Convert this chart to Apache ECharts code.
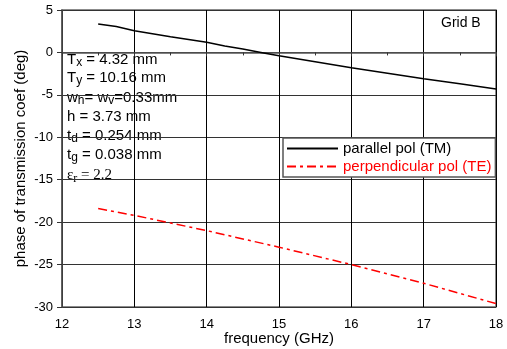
<!DOCTYPE html>
<html><head><meta charset="utf-8">
<script src="https://cdn.jsdelivr.net/npm/echarts@6/dist/echarts.min.js"></script>
<style>html,body{margin:0;padding:0;background:#fff}#c{width:507px;height:349px}</style>
</head><body><div id="c"></div>
<script>
const freqTM = [12.5, 12.75, 13, 13.5, 14, 14.25, 14.5, 14.75, 15, 15.5, 16, 16.5, 17, 17.5, 18];
const phaseTM = [3.35, 3.05, 2.55, 1.85, 1.2, 0.75, 0.4, 0.0, -0.4, -1.1, -1.8, -2.45, -3.1, -3.7, -4.3];
const freqTE = [12.5, 13, 14, 15, 16, 17, 18];
const phaseTE = [-18.4, -19.2, -21.0, -22.95, -25.0, -27.2, -29.6];
const seriesNames = ['parallel pol (TM)', 'perpendicular pol (TE)'];
const xTicks = [12, 13, 14, 15, 16, 17, 18];
const yTicks = [5, 0, -5, -10, -15, -20, -25, -30];

const chart = echarts.init(document.getElementById('c'));
const font = 'Liberation Sans, Arial, sans-serif';
const sub = {fontSize: 12, fontFamily: font, color: '#000', padding: [7, 0, 0, 0]};
const main = {fontSize: 15, fontFamily: font, color: '#000'};
const ann = [
  ['{m|T}{s|x}{m| = 4.32 mm}', 61],
  ['{m|T}{s|y}{m| = 10.16 mm}', 79],
  ['{m|w}{s|h}{m|= w}{s|v}{m|=0.33mm}', 99],
  ['{m|h = 3.73 mm}', 118],
  ['{m|t}{s|d}{m| = 0.254 mm}', 137],
  ['{m|t}{s|g}{m| = 0.038 mm}', 156]
];
const graphic = ann.map(a => ({
  type: 'text', left: 67, top: a[1] - 9,
  style: {text: a[0], rich: {m: main, s: sub}}
}));
graphic.push({type: 'text', left: 67, top: 168, style: {text: '{m|ε}{s|r}{m| = 2.2}', rich: {
  m: {fontSize: 15, fontFamily: 'Liberation Serif, Times New Roman, serif', color: '#444'},
  s: {fontSize: 12, fontFamily: 'Liberation Serif, serif', color: '#444', padding: [6, 0, 0, 0]}}}});
graphic.push({type: 'text', left: 441, top: 16, style: {text: 'Grid B', fontSize: 14, fontFamily: font, fill: '#000'}});

chart.setOption({
  animation: false,
  grid: {left: 62, right: 11, top: 10, bottom: 42, show: true, borderColor: '#666', borderWidth: 1.5,
    containLabel: false, outerBoundsMode: 'none'},
  graphic: graphic,
  legend: {
    orient: 'vertical', left: 283, top: 138, width: 210,
    padding: [3, 4, 3, 3], itemGap: 3, itemWidth: 51, itemHeight: 14,
    backgroundColor: '#fff', borderColor: '#555', borderWidth: 1.5,
    itemStyle: {opacity: 0},
    textStyle: {fontSize: 15, fontFamily: font},
    data: [
      {name: seriesNames[0], textStyle: {color: '#000'}},
      {name: seriesNames[1], textStyle: {color: '#ff0000'}}
    ]
  },
  xAxis: {
    type: 'value', min: 12, max: 18, interval: 1,
    name: 'frequency (GHz)', nameLocation: 'middle', nameGap: 24, nameMoveOverlap: false,
    nameTextStyle: {fontSize: 15, fontFamily: font, color: '#000'},
    axisLine: {lineStyle: {color: '#555', width: 1.5}},
    axisTick: {show: true, inside: false, length: 4, lineStyle: {color: '#333'}},
    minorTick: {show: true, splitNumber: 2, length: 3, lineStyle: {color: '#333'}},
    axisLabel: {fontSize: 13, fontFamily: font, color: '#000', margin: 11,
      formatter: v => xTicks.includes(v) ? String(v) : ''},
    splitLine: {show: true, lineStyle: {color: '#000', width: 1}}
  },
  yAxis: {
    type: 'value', min: -30, max: 5, interval: 5,
    name: 'phase of transmission coef (deg)', nameLocation: 'middle', nameGap: 34, nameMoveOverlap: false,
    nameTextStyle: {fontSize: 15, fontFamily: font, color: '#000'},
    axisLine: {show: true, lineStyle: {color: '#555', width: 1.5}},
    axisTick: {show: true, length: 5, lineStyle: {color: '#333'}},
    axisLabel: {fontSize: 13, fontFamily: font, color: '#000', margin: 9,
      formatter: v => yTicks.includes(v) ? String(v) : ''},
    splitLine: {show: true, lineStyle: {color: '#333', width: 1.2}}
  },
  series: [
    {name: seriesNames[0], type: 'line', symbol: 'none', data: freqTM.map((f, i) => [f, phaseTM[i]]),
      lineStyle: {color: '#000', width: 1.5}, itemStyle: {color: '#000'}, z: 5},
    {name: seriesNames[1], type: 'line', symbol: 'none', data: freqTE.map((f, i) => [f, phaseTE[i]]),
      lineStyle: {color: '#ff0000', width: 1.5, type: [9, 4, 3, 4]}, itemStyle: {color: '#ff0000'}, z: 5}
  ]
});
</script></body></html>
